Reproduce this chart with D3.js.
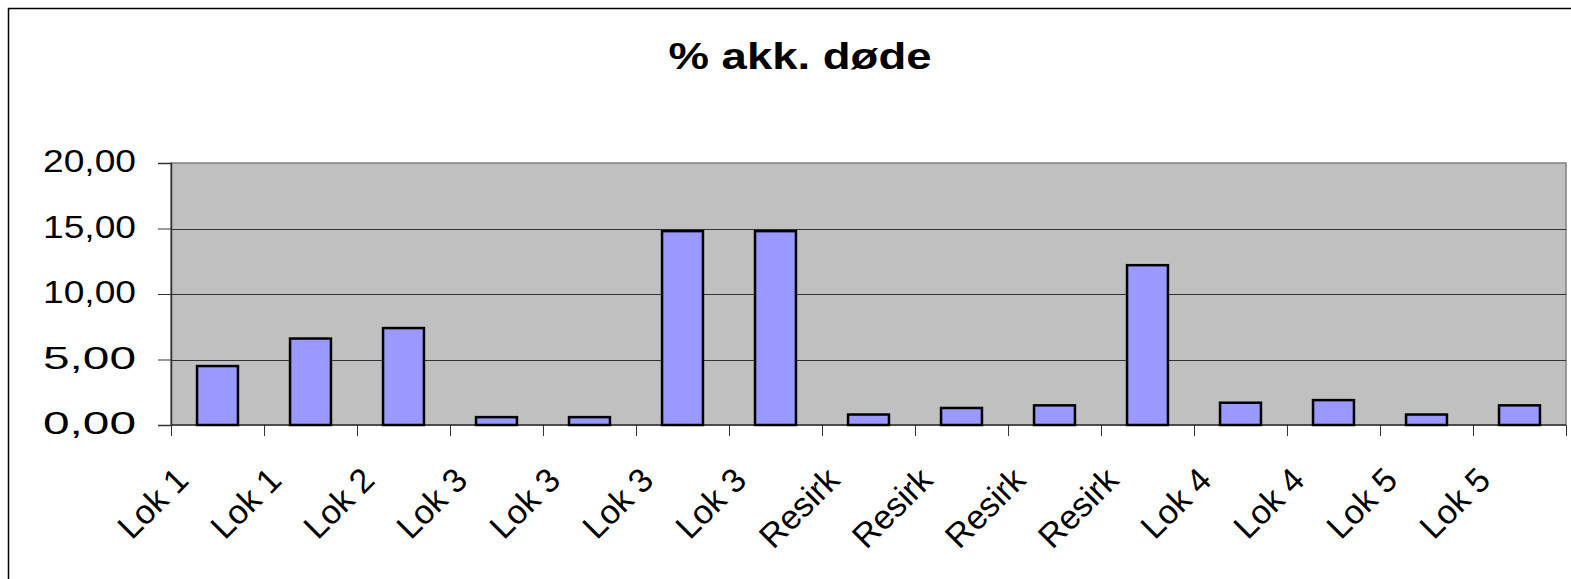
<!DOCTYPE html>
<html>
<head>
<meta charset="utf-8">
<script src="https://cdn.jsdelivr.net/npm/d3@7"></script>
<style>
  html, body { margin: 0; padding: 0; background: #fff; }
  svg { display: block; font-family: Arial, "Liberation Sans", sans-serif; }
</style>
</head>
<body>
<div id="chart"></div>
<script>
// chart data
const title = '% akk. døde';
const categories = ['Lok 1', 'Lok 1', 'Lok 2', 'Lok 3', 'Lok 3', 'Lok 3', 'Lok 3',
  'Resirk', 'Resirk', 'Resirk', 'Resirk', 'Lok 4', 'Lok 4', 'Lok 5', 'Lok 5'];
const values = [4.5, 6.6, 7.4, 0.6, 0.6, 14.8, 14.8, 0.8, 1.3, 1.5, 12.2, 1.7, 1.9, 0.8, 1.5];
const yTicks = [0, 5, 10, 15, 20];

const width = 1571;
const height = 579;
const margin = { top: 163, right: 5, bottom: 154, left: 171 };

const svg = d3.select('#chart')
  .append('svg')
  .attr('width', width)
  .attr('height', height);

// outer chart frame (runs off the right/bottom edge)
svg.append('rect')
  .attr('x', 8.5)
  .attr('y', 8.5)
  .attr('width', width + 20)
  .attr('height', height + 20)
  .attr('fill', '#fff')
  .attr('stroke', '#000')
  .attr('stroke-width', 1.5);

// title (stretched wide like the original)
svg.append('text')
  .attr('x', 800)
  .attr('y', 69)
  .attr('text-anchor', 'middle')
  .attr('textLength', 263)
  .attr('lengthAdjust', 'spacingAndGlyphs')
  .style('font-size', '36px')
  .style('font-weight', 'bold')
  .text(title);

// scales
const x = d3.scaleBand()
  .domain(d3.range(categories.length))
  .range([margin.left, width - margin.right])
  .paddingInner(0.56)
  .paddingOuter(0.28);

const xTick = d3.scaleLinear()
  .domain([0, categories.length])
  .range([margin.left, width - margin.right]);

const y = d3.scaleLinear()
  .domain([0, 20])
  .range([height - margin.bottom, margin.top]);

// plot area
svg.append('rect')
  .attr('x', margin.left)
  .attr('y', margin.top)
  .attr('width', width - margin.right - margin.left)
  .attr('height', y(0) - margin.top)
  .attr('fill', '#c0c0c0')
  .attr('stroke', '#808080')
  .attr('stroke-width', 1.5);

// gridlines
svg.append('g')
  .selectAll('line')
  .data(yTicks.filter(d => d > 0 && d < 20))
  .enter()
  .append('line')
  .attr('x1', margin.left)
  .attr('x2', width - margin.right)
  .attr('y1', d => Math.round(y(d)) + 0.5)
  .attr('y2', d => Math.round(y(d)) + 0.5)
  .attr('stroke', '#333')
  .attr('stroke-width', 1);

// y axis
const yAxis = svg.append('g')
  .attr('transform', `translate(${margin.left},0)`)
  .call(d3.axisLeft(y)
    .tickValues(yTicks)
    .tickSize(13)
    .tickPadding(22)
    .tickFormat(d => d3.format('.2f')(d).replace('.', ',')));
yAxis.selectAll('text')
  .style('font-size', '32px')
  .attr('dy', '0.27em')
  .attr('textLength', 93)
  .attr('lengthAdjust', 'spacingAndGlyphs')
  .attr('fill', '#000');
yAxis.selectAll('line').attr('stroke', '#333');
yAxis.select('.domain').attr('stroke', '#333').attr('stroke-width', 1.5);

// x axis ticks
svg.append('g')
  .selectAll('line')
  .data(d3.range(categories.length + 1))
  .enter()
  .append('line')
  .attr('x1', d => Math.round(xTick(d)) + 0.5)
  .attr('x2', d => Math.round(xTick(d)) + 0.5)
  .attr('y1', y(0))
  .attr('y2', y(0) + 11)
  .attr('stroke', '#333');

svg.append('line')
  .attr('x1', margin.left)
  .attr('x2', width - margin.right)
  .attr('y1', y(0))
  .attr('y2', y(0))
  .attr('stroke', '#333')
  .attr('stroke-width', 1.5);

// bars
svg.selectAll('.bar')
  .data(values)
  .enter()
  .append('rect')
  .attr('class', 'bar')
  .attr('x', (d, i) => x(i))
  .attr('y', d => y(d))
  .attr('width', x.bandwidth())
  .attr('height', d => y(0) - y(d))
  .attr('fill', '#9999ff')
  .attr('stroke', '#000')
  .attr('stroke-width', 2.5);

// x labels, rotated
svg.selectAll('.xlabel')
  .data(categories)
  .enter()
  .append('text')
  .attr('class', 'xlabel')
  .attr('transform', (d, i) => `translate(${x(i) + x.bandwidth() / 2 - 27},${y(0) + 57}) rotate(-45)`)
  .attr('text-anchor', 'end')
  .style('font-size', '34px')
  .text(d => d);
</script>
</body>
</html>
